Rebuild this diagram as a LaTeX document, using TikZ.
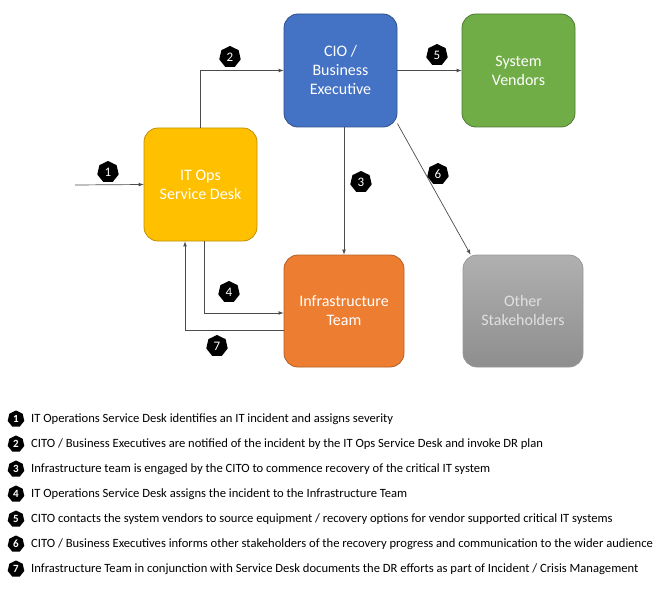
\documentclass[tikz,border=0pt]{standalone}
\usepackage{fontspec}
\setmainfont{Carlito}
\usetikzlibrary{shapes.geometric}

\definecolor{opsyellow}{HTML}{FFC000}
\definecolor{cioblue}{HTML}{4472C4}
\definecolor{vendgreen}{HTML}{70AD47}
\definecolor{infraorange}{HTML}{ED7D31}
\definecolor{othertop}{HTML}{B0B0B0}
\definecolor{otherbottom}{HTML}{8E8E8E}

\begin{document}
\begin{tikzpicture}[x=1pt, y=-1pt, >=latex,
    box/.style={draw, rounded corners=14pt, minimum width=113pt, minimum height=113pt, text=white, align=center, font=\fontsize{16}{19}\selectfont, line width=0.8pt},
    badge/.style={regular polygon, regular polygon sides=7, fill=black, text=white, inner sep=0pt, minimum size=22pt, font=\fontsize{13}{13}\selectfont},
    lbadge/.style={badge, minimum size=17pt, font=\bfseries\fontsize{11}{11}\selectfont},
    flow/.style={->, draw=black!70, line width=0.7pt},
    item/.style={anchor=west, inner sep=0pt, font=\fontsize{12.6}{14}\selectfont}]
        \useasboundingbox (0, 0) rectangle (666, 591);

        % boxes
        \node [box, fill=opsyellow, draw=opsyellow!75!black] (ops) at (200.5, 184.5) {IT Ops\\Service Desk};
        \node [box, fill=cioblue, draw=cioblue!70!black] (cio) at (340.5, 70.5) {CIO /\\Business\\Executive};
        \node [box, fill=vendgreen, draw=vendgreen!70!black] (vend) at (518.5, 70.5) {System\\Vendors};
        \node [box, minimum width=120pt, minimum height=112pt, fill=infraorange, draw=infraorange!75!black] (infra) at (344, 311) {Infrastructure\\Team};
        \node [box, minimum width=120pt, minimum height=112pt, top color=othertop, bottom color=otherbottom, draw=otherbottom!90!white, text=white!88!black] (other) at (523, 311) {Other\\Stakeholders};

        % connectors
        \coordinate (start) at (75, 185);
        \draw [flow] (start) -- (ops.west);
        \draw [flow] (ops.north) |- (cio.west);
        \draw [flow] (infra.north |- cio.south) -- (infra.north);
        \draw [flow] ([xshift=3.5pt]ops.south) |- ([yshift=-2pt]infra.west);
        \draw [flow] (cio.east) -- (vend.west);
        \draw [flow] (cio.-43) -- ([xshift=8pt]other.north west);
        \draw [flow] ([yshift=-19pt]infra.west) -| ([xshift=-15.5pt]ops.south);

        % step numbers
        \node [badge] (b1) at (108, 172) {1};
        \node [badge] (b2) at (230, 57) {2};
        \node [badge] (b3) at (361, 182) {3};
        \node [badge] (b4) at (229, 292) {4};
        \node [badge] (b5) at (437, 55) {5};
        \node [badge] (b6) at (438, 174) {6};
        \node [badge] (b7) at (217, 346) {7};

        % legend
        \node [lbadge] (l1) at (16, 419) {1};
        \node [lbadge] (l2) at (16, 444) {2};
        \node [lbadge] (l3) at (16, 469) {3};
        \node [lbadge] (l4) at (16, 494) {4};
        \node [lbadge] (l5) at (16, 519) {5};
        \node [lbadge] (l6) at (16, 544) {6};
        \node [lbadge] (l7) at (16, 569) {7};
        \node [item] (t1) at (31, 419) {IT Operations Service Desk identifies an IT incident and assigns severity};
        \node [item] (t2) at (31, 444) {CITO / Business Executives are notified of the incident by the IT Ops Service Desk and invoke DR plan};
        \node [item] (t3) at (31, 469) {Infrastructure team is engaged by the CITO to commence recovery of the critical IT system};
        \node [item] (t4) at (31, 494) {IT Operations Service Desk assigns the incident to the Infrastructure Team};
        \node [item] (t5) at (31, 519) {CITO contacts the system vendors to source equipment / recovery options for vendor supported critical IT systems};
        \node [item] (t6) at (31, 544) {CITO / Business Executives informs other stakeholders of the recovery progress and communication to the wider audience};
        \node [item] (t7) at (31, 569) {Infrastructure Team in conjunction with Service Desk documents the DR efforts as part of Incident / Crisis Management};
    \end{tikzpicture}
\end{document}
